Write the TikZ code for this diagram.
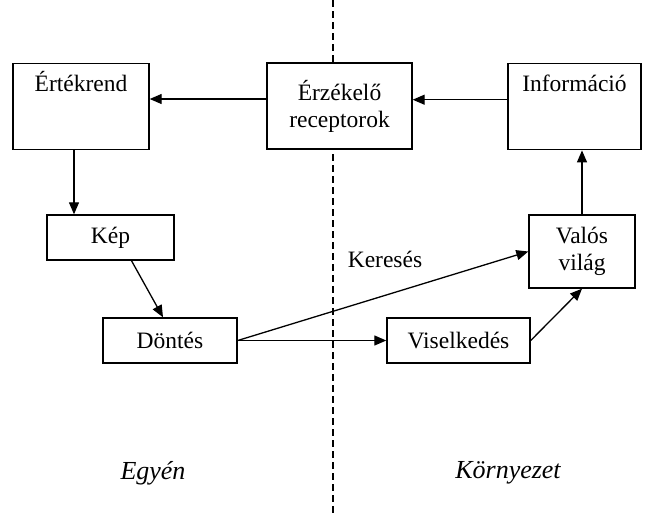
\documentclass[tikz,border=0pt]{standalone}
\usepackage{fontspec}
\setmainfont{Liberation Serif}
\usetikzlibrary{arrows.meta, positioning}

\tikzset{
  box/.style={draw, fill=white, line width=1.4pt, inner sep=0pt, font=\fontsize{23.5}{27}\selectfont},
  topbox/.style={box, text height=28pt, text depth=58pt},
  flow/.style={line width=1.3pt, -{Triangle[length=12pt,width=10pt]}},
  side/.style={font=\fontsize{26}{30}\selectfont\itshape},
}

\begin{document}
\begin{tikzpicture}[x=1pt, y=-1pt]
  \useasboundingbox (0,0) rectangle (645,515);

  % Divider
  \coordinate (divtop) at (333,0);
  \coordinate (divbot) at (333,515);
  \draw[line width=1.3pt, dash pattern=on 7pt off 4pt] (divtop) -- (divbot);

  % Boxes
  \node[topbox, minimum width=136pt, anchor=north] (ertekrend) at (81,63) {Értékrend};
  \node[box, minimum width=145pt, minimum height=86pt, align=center] (erzekelo) at (339.5,106) {Érzékelő\\receptorok};
  \node[topbox, minimum width=133pt, anchor=north] (info) at (574.5,63) {Információ};
  \node[box, minimum width=127pt, minimum height=45pt] (kep) at (110.5,237.5) {Kép};
  \node[box, minimum width=134pt, minimum height=45pt] (dontes) at (170,340.5) {Döntés};
  \node[box, minimum width=143pt, minimum height=45pt] (viselk) at (458.5,340.5) {Viselkedés};
  \node[box, minimum width=106pt, minimum height=73pt, align=center] (valos) at (582,251.5) {Valós\\világ};

  % Labels
  \node[font=\fontsize{23.5}{27}\selectfont] (keres) at (385,259) {Keresés};
  \node[side] (egyen) at (153,473) {Egyén};
  \node[side] (kornyezet) at (508,473) {Környezet};

  % Arrows
  \draw[flow] ([yshift=7pt]info.west) -- ([yshift=7pt]info.west -| erzekelo.east);
  \draw[flow] ([yshift=7pt]erzekelo.west) -- ([yshift=7pt]erzekelo.west -| ertekrend.east);
  \draw[flow] ([xshift=-7pt]ertekrend.south) -- ([xshift=-7pt]ertekrend.south |- kep.north);
  \draw[flow] ([xshift=21pt]kep.south) -- ([xshift=-7pt]dontes.north);
  \draw[flow] (dontes.east) -- (viselk.west);
  \draw[flow] (dontes.east) -- (valos.west);
  \draw[flow] (viselk.east) -- (valos.south);
  \draw[flow] (valos.north) -- (valos.north |- info.south);
\end{tikzpicture}
\end{document}
